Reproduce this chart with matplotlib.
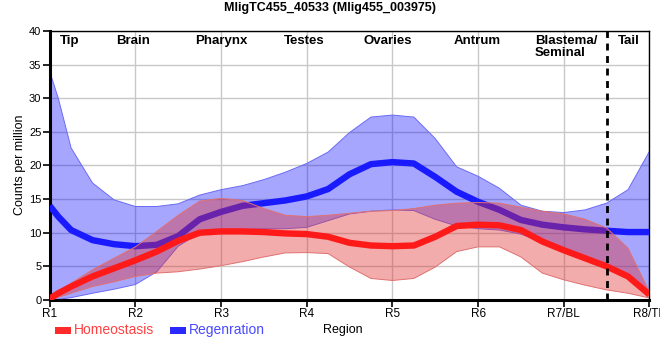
import matplotlib
matplotlib.use('Agg')
import matplotlib.pyplot as plt
from matplotlib.patches import Rectangle

plt.rcParams['font.family'] = ['Liberation Sans', 'DejaVu Sans']

# positions along the body (1 = R1 ... 8 = R8/TP)
pos = [1, 1.1, 1.25, 1.5, 1.75, 2, 2.25, 2.5, 2.75, 3, 3.25, 3.5, 3.75, 4, 4.25,
       4.5, 4.75, 5, 5.25, 5.5, 5.75, 6, 6.25, 6.5, 6.75, 7, 7.25, 7.5, 7.75, 8]

regen_mean = [14.0, 12.4, 10.4, 8.9, 8.3, 8.0, 8.2, 9.5, 12.0, 13.1, 14.0, 14.4, 14.8, 15.4, 16.5,
              18.7, 20.2, 20.5, 20.3, 18.3, 16.1, 14.6, 13.4, 11.9, 11.2, 10.8, 10.5, 10.3, 10.1, 10.1]
regen_hi = [34.0, 30.0, 22.6, 17.4, 14.9, 13.9, 13.9, 14.3, 15.6, 16.4, 17.0, 17.9, 19.0, 20.3, 22.0,
            24.9, 27.2, 27.5, 27.2, 24.0, 19.8, 18.4, 16.6, 14.1, 13.2, 13.0, 13.4, 14.4, 16.4, 22.1]
regen_lo = [0.0, 0.1, 0.35, 1.0, 1.6, 2.3, 4.2, 8.0, 10.0, 10.3, 10.5, 10.6, 10.6, 10.8, 11.8,
            12.8, 13.2, 13.4, 13.3, 12.0, 11.0, 10.6, 10.4, 9.8, 8.6, 7.5, 6.3, 5.2, 3.6, 0.8]

homeo_mean = [0.2, 1.0, 2.0, 3.5, 4.7, 5.9, 7.2, 8.8, 10.0, 10.2, 10.2, 10.1, 9.9, 9.8, 9.4,
              8.5, 8.1, 8.0, 8.1, 9.4, 11.0, 11.2, 11.1, 10.4, 8.7, 7.4, 6.2, 5.0, 3.5, 0.8]
homeo_hi = [0.2, 1.2, 2.5, 4.5, 6.2, 7.9, 10.2, 12.6, 14.7, 15.1, 14.8, 13.6, 12.6, 12.4, 12.6,
            12.9, 13.2, 13.3, 13.6, 14.1, 14.4, 14.5, 14.4, 13.8, 13.2, 12.8, 12.0, 10.7, 7.7, 1.2]
homeo_lo = [0.0, 0.4, 1.0, 2.0, 2.7, 3.5, 4.0, 4.2, 4.6, 5.1, 5.7, 6.4, 7.0, 7.05, 6.9,
            4.9, 3.2, 2.9, 3.2, 4.9, 7.2, 7.9, 7.9, 6.4, 4.0, 3.0, 2.2, 1.5, 1.0, 0.3]

tick_labels = ['R1', 'R2', 'R3', 'R4', 'R5', 'R6', 'R7/BL', 'R8/TP']
regions = ['Tip', 'Brain', 'Pharynx', 'Testes', 'Ovaries', 'Antrum', 'Blastema/\nSeminal', 'Tail']
region_x = [1.23, 1.97, 3.0, 3.97, 4.95, 5.99, 7.03, 7.76]
tail_cut = 7.5

fig = plt.figure(figsize=(6.6, 3.6), dpi=100)
ax = fig.add_axes([0.0753, 0.1667, 0.9087, 0.7472])

ax.set_xlim(1, 8)
ax.set_ylim(0, 40)
ax.set_xticks(range(1, 9))
ax.set_xticklabels(tick_labels, fontsize=8.5)
ax.set_yticks(range(0, 41, 5))
ax.tick_params(axis='y', labelsize=8, length=5, width=1.2, pad=1)
ax.tick_params(axis='x', length=5, width=1.2, pad=1)
ax.grid(True, color='#c8c8c8', linewidth=1)
ax.set_axisbelow(True)

for s in ['left', 'bottom']:
    ax.spines[s].set_linewidth(2.2)
for s in ['top', 'right']:
    ax.spines[s].set_linewidth(1)

# regeneration first, homeostasis on top of it
ax.fill_between(pos, regen_lo, regen_hi, facecolor='#0000ff', alpha=0.35,
                edgecolor='none', zorder=2)
ax.plot(pos, regen_hi, color='#6a6af5', lw=0.7, zorder=2)
ax.plot(pos, regen_lo, color='#6a6af5', lw=0.7, zorder=2)
ax.plot(pos, regen_mean, color='#1a1aff', lw=4.6, solid_capstyle='butt',
        solid_joinstyle='round', zorder=3)

ax.fill_between(pos, homeo_lo, homeo_hi, facecolor='#e03030', alpha=0.4,
                edgecolor='none', zorder=4)
ax.plot(pos, homeo_hi, color='#e07070', lw=0.7, zorder=4)
ax.plot(pos, homeo_lo, color='#e07070', lw=0.7, zorder=4)
ax.plot(pos, homeo_mean, color='#ff1a1a', lw=4.6, solid_capstyle='butt',
        solid_joinstyle='round', zorder=5)

ax.axvline(tail_cut, color='black', lw=2, linestyle=(0, (2.5, 2)), zorder=6)

for name, rx in zip(regions, region_x):
    ax.text(rx, 39.4, name, ha='center', va='top', fontsize=9.5,
            fontweight='bold', multialignment='left', linespacing=1.05, zorder=7)

fig.text(20 / 660, 1 - 165 / 360, 'Counts per million', rotation=90,
         ha='center', va='center', fontsize=9)
fig.text(0.52, 0.083, 'Region', ha='center', va='center', fontsize=9)
fig.text(0.5, 0.977, 'MligTC455_40533 (Mlig455_003975)', ha='center', va='center',
         fontsize=9, fontweight='bold')

# legend drawn by hand
fig.add_artist(Rectangle((55 / 660, 1 - 334 / 360), 16 / 660, 7 / 360,
                         transform=fig.transFigure, facecolor='#ff2a2a', edgecolor='none'))
fig.text(74 / 660, 1 - 330 / 360, 'Homeostasis', color='#ff4040', fontsize=10, va='center')
fig.add_artist(Rectangle((170 / 660, 1 - 334 / 360), 16 / 660, 7 / 360,
                         transform=fig.transFigure, facecolor='#2a2aff', edgecolor='none'))
fig.text(189 / 660, 1 - 330 / 360, 'Regenration', color='#4a4aff', fontsize=10, va='center')

fig.savefig('out.png', dpi=100)
